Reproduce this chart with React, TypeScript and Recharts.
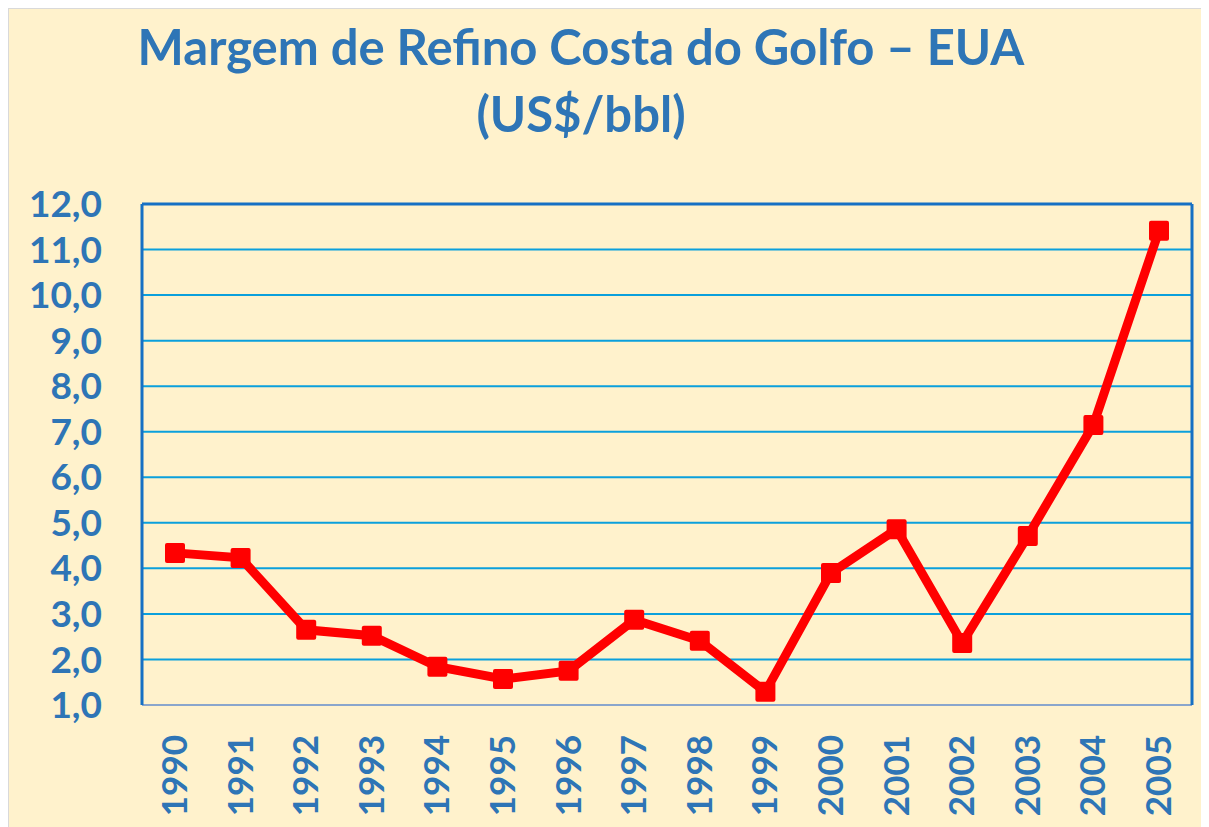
import { LineChart, Line, XAxis, YAxis, CartesianGrid, ReferenceLine } from 'recharts';

const years = ['1990', '1991', '1992', '1993', '1994', '1995', '1996', '1997', '1998', '1999', '2000', '2001', '2002', '2003', '2004', '2005'];
const margins = [4.34, 4.23, 2.65, 2.52, 1.84, 1.57, 1.75, 2.87, 2.41, 1.29, 3.9, 4.86, 2.36, 4.71, 7.15, 11.41];
const yTicks = [1, 2, 3, 4, 5, 6, 7, 8, 9, 10, 11, 12];

const titleLines = ['Margem de Refino Costa do Golfo – EUA', '(US$/bbl)'];

const BLUE_TEXT = '#2E75B6';
const BORDER = '#1670C4';
const GRID = '#0BA0DC';
const FONT = 'Lato, "Open Sans", sans-serif';

const data = years.map((year, i) => ({ year, value: margins[i] }));

// square marker like the excel one
const SquareDot = (props: any) => {
  const { cx, cy } = props;
  if (cx == null || cy == null) return null;
  return <rect x={cx - 10} y={cy - 10} width={20} height={20} rx={2} fill="#FF0000" />;
};

const YearTick = (props: any) => {
  const { x, y, payload } = props;
  return (
    <text
      transform={`translate(${x + 12},${y}) rotate(-90)`}
      textAnchor="end"
      fill={BLUE_TEXT}
      fontSize={35}
      fontWeight={700}
      fontFamily={FONT}
    >
      {payload.value}
    </text>
  );
};

export default function App() {
  return (
    <div
      style={{
        position: 'relative',
        width: 1200,
        height: 818,
        background: '#FFF2CC',
        borderLeft: '1px solid #D9D9D9',
        borderTop: '1px solid #D9D9D9',
      }}
    >
      <svg width={1200} height={160} style={{ position: 'absolute', left: 0, top: 0 }}>
        <text x={572} y={56} textAnchor="middle" fill={BLUE_TEXT} fontSize={49} fontWeight={700} fontFamily={FONT}>
          {titleLines[0]}
        </text>
        <text x={572} y={123} textAnchor="middle" fill={BLUE_TEXT} fontSize={49} fontWeight={700} fontFamily={FONT}>
          {titleLines[1]}
        </text>
      </svg>
      <LineChart
        width={1200}
        height={818}
        data={data}
        margin={{ top: 195, right: 0, left: 0, bottom: 0 }}
        style={{ position: 'absolute', left: 0, top: 0 }}
      >
        <CartesianGrid vertical={false} stroke={GRID} strokeWidth={2} />
        <XAxis
          dataKey="year"
          height={122}
          interval={0}
          padding={{ left: 33, right: 33 }}
          tickLine={false}
          tickSize={0}
          tickMargin={30}
          axisLine={{ stroke: '#8AA6CC', strokeWidth: 2 }}
          tick={<YearTick />}
        />
        <YAxis
          domain={[1, 12]}
          ticks={yTicks}
          interval={0}
          width={133}
          tickLine={false}
          tickSize={0}
          tickMargin={40}
          axisLine={{ stroke: BORDER, strokeWidth: 3 }}
          tickFormatter={(v: number) => v.toFixed(1).replace('.', ',')}
          tick={{ fill: BLUE_TEXT, fontSize: 37, fontWeight: 700, fontFamily: FONT }}
        />
        <YAxis
          yAxisId="right"
          orientation="right"
          domain={[1, 12]}
          width={17}
          tick={false}
          tickLine={false}
          axisLine={{ stroke: BORDER, strokeWidth: 3 }}
        />
        <ReferenceLine y={12} stroke={BORDER} strokeWidth={3} />
        <Line
          dataKey="value"
          stroke="#FF0000"
          strokeWidth={9}
          dot={<SquareDot />}
          activeDot={false}
          isAnimationActive={false}
        />
      </LineChart>
    </div>
  );
}
